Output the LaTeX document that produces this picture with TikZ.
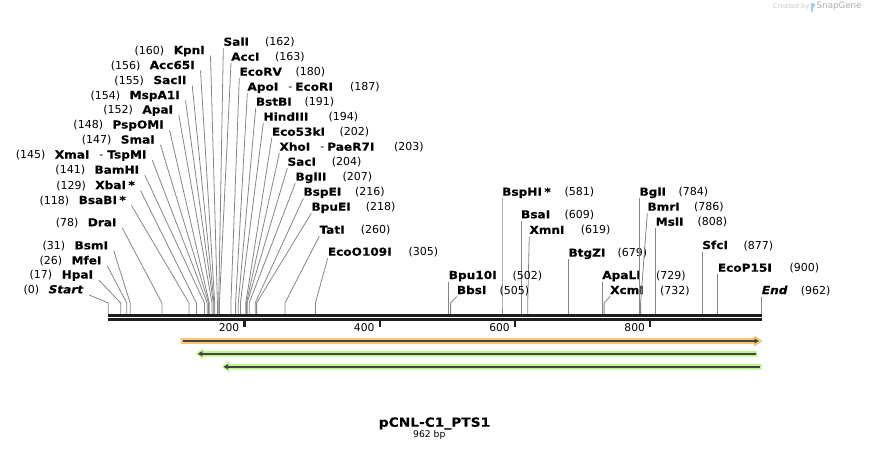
\documentclass[tikz,border=0pt]{standalone}
\usepackage{fontspec}
\setmainfont{DejaVu Sans}
\newfontfamily\stretchfam[FakeStretch=1.1,FakeBold=0.35]{DejaVu Sans}
\newcommand\myEnz{\stretchfam\bfseries\fontsize{11}{13}\selectfont}
\newcommand\myNum{\fontsize{11}{13}\selectfont}
\newcommand\myTick{\fontsize{10.7}{13}\selectfont}
\newcommand\myTitle{\stretchfam\bfseries\fontsize{12.5}{14}\selectfont}
\definecolor{orF}{HTML}{F9C774}
\definecolor{grF}{HTML}{BDF48C}
\definecolor{dk}{HTML}{454545}
\definecolor{siteg}{HTML}{868686}
\definecolor{axk}{HTML}{1E1E1E}
\definecolor{snapblue}{HTML}{9ED3F3}
% left-side label: id, site x, baseline, name right end, number, name
\newcommand\leftsite[6]{%
  \node[enz,anchor=base east] (n#1) at (#4,#3) {#6};
  \node[num,anchor=base east] (m#1) at ([xshift=-9pt]n#1.base west) {(#5)};
  \coordinate (k#1) at (#2,303);
  \coordinate (a#1) at (#2,314);
  \draw[siteline] ([xshift=5.5pt,yshift=-1.5pt]n#1.base east) -- (k#1) -- (a#1);
}
% right-side label: id, site x, baseline, name x, number x, number, name
\newcommand\rightsite[7]{%
  \node[enz,anchor=base west] (n#1) at (#4,#3) {#7};
  \node[num,anchor=base west] (m#1) at (#5,#3) {(#6)};
  \coordinate (k#1) at (#2,303);
  \coordinate (a#1) at (#2,314);
  \draw[siteline] ([yshift=-2.5pt]n#1.base west) -- (k#1) -- (a#1);
}
\begin{document}
\begin{tikzpicture}[x=1pt,y=-1pt,
  enz/.style={font=\myEnz,inner sep=0pt},
  num/.style={font=\myNum,inner sep=0pt},
  tickf/.style={font=\myTick,inner sep=0pt},
  siteline/.style={draw=siteg,line width=0.8pt},
  axisline/.style={draw=axk},
  tickline/.style={draw=axk,line width=2.2pt}]
\useasboundingbox (0,0) rectangle (870,453);

% watermark
\node[inner sep=0pt,anchor=base east,font=\fontsize{6.6}{8}\selectfont,text=black!22] (cb) at (809.5,8.4) {Created by};
\fill[snapblue] (811,12) -- (811,3) -- (813.2,3) .. controls (815.6,3) and (815.6,7.6) .. (813.2,7.6) -- (813.2,12) -- cycle;
\node[inner sep=0pt,anchor=base west,font=\fontsize{8.7}{10}\selectfont,text=black!32] (sg) at (816.5,8.4) {SnapGene};

% sites, left column
\leftsite{Kpn}{217.4}{54}{205}{160}{KpnI}
\leftsite{Acc}{214.7}{69}{195}{156}{Acc65I}
\leftsite{SacII}{214.0}{84}{186.7}{155}{SacII}
\leftsite{Msp}{213.3}{99}{180}{154}{MspA1I}
\leftsite{Apa}{212.0}{113.5}{173.3}{152}{ApaI}
\leftsite{Psp}{209.3}{128.5}{164}{148}{PspOMI}
\leftsite{Sma}{208.6}{143.5}{155}{147}{SmaI}
\leftsite{Xma}{207.2}{158.5}{146.7}{145}{XmaI\hspace{10pt}{\normalfont\myNum-}\hspace{4pt}TspMI}
\leftsite{Bam}{204.5}{173.7}{139.3}{141}{BamHI}
\leftsite{Xba}{196.4}{189}{135}{129}{XbaI\hspace{2.5pt}*}
\leftsite{BsaB}{189.0}{204}{126}{118}{BsaBI\hspace{2.5pt}*}
\leftsite{Dra}{161.9}{226.3}{116.7}{78}{DraI}
\leftsite{Bsm}{130.2}{249.3}{108.3}{31}{BsmI}
\leftsite{Mfe}{126.8}{264.3}{101.7}{26}{MfeI}
\leftsite{Hpa}{120.7}{278.5}{93.3}{17}{HpaI}
\leftsite{Start}{108.3}{293.3}{83.3}{0}{\itshape Start}

% sites, right column
\rightsite{Sal}{218.7}{45.7}{223.3}{265}{162}{SalI}
\rightsite{AccI}{219.4}{60.7}{231}{275}{163}{AccI}
\rightsite{EcoRV}{230.9}{75.7}{239.3}{295.3}{180}{EcoRV}
\rightsite{Apo}{235.6}{90.7}{247.3}{350}{187}{ApoI\hspace{10pt}{\normalfont\myNum-}\hspace{3pt}EcoRI}
\rightsite{BstB}{238.3}{105.7}{255.7}{304.3}{191}{BstBI}
\rightsite{Hind}{240.4}{120.7}{263.3}{328.3}{194}{HindIII}
\rightsite{Eco53}{245.8}{135.7}{271.7}{339.3}{202}{Eco53kI}
\rightsite{Xho}{246.4}{150.7}{279.3}{394}{203}{XhoI\hspace{10pt}{\normalfont\myNum-}\hspace{3pt}PaeR7I}
\rightsite{SacI}{247.1}{165.7}{287.3}{331.7}{204}{SacI}
\rightsite{BglII}{249.2}{180.7}{295.3}{342.3}{207}{BglII}
\rightsite{BspE}{255.2}{195.7}{303.3}{355}{216}{BspEI}
\rightsite{BpuE}{256.6}{210.7}{311.3}{365.7}{218}{BpuEI}
\rightsite{Tat}{285.0}{233.7}{319.3}{360.7}{260}{TatI}
\rightsite{EcoO}{315.4}{255.7}{327.7}{408.3}{305}{EcoO109I}

% sites, right group
\rightsite{BspH}{502.0}{195.7}{502.0}{564.3}{581}{BspHI\hspace{2.5pt}*}
\rightsite{Bsa}{520.9}{218.3}{520.9}{564.3}{609}{BsaI}
\rightsite{Xmn}{527.7}{233.8}{529.3}{580.7}{619}{XmnI}
\rightsite{BtgZ}{568.3}{256.7}{568.3}{617.3}{679}{BtgZI}
\rightsite{Bpu10}{448.6}{279}{448.6}{512.3}{502}{Bpu10I}
\rightsite{Bbs}{450.6}{294}{456.7}{499.3}{505}{BbsI}
\rightsite{ApaL}{602.1}{279}{602.1}{656}{729}{ApaLI}
\rightsite{Xcm}{604.1}{294}{610}{660}{732}{XcmI}
\rightsite{BglI}{639.3}{195.7}{639.3}{678.3}{784}{BglI}
\rightsite{Bmr}{640.6}{210.7}{647.3}{694}{786}{BmrI}
\rightsite{Msl}{655.5}{225.7}{655.5}{697.3}{808}{MslI}
\rightsite{Sfc}{702.1}{249}{702.1}{743.3}{877}{SfcI}
\rightsite{EcoP}{717.7}{271.7}{717.7}{789.3}{900}{EcoP15I}
\rightsite{End}{761.7}{294}{761.7}{800.7}{962}{\itshape End}

% sequence axis
\coordinate (ax0) at (108,315.3);
\coordinate (ax1) at (762,315.3);
\coordinate (bx0) at (108,319.5);
\coordinate (bx1) at (762,319.5);
\draw[axisline,line width=2.7pt] (ax0) -- (ax1);
\draw[axisline,line width=2.4pt] (bx0) -- (bx1);
\foreach \tx/\tl in {244.4/200,379.6/400,514.9/600,650.1/800}{
  \draw[tickline] (\tx,320.5) -- (\tx,327.3);
  \node[tickf,anchor=base east] (tk\tl) at (\tx-5,331) {\tl};
}

% features
\fill[orF] (180.7,338.2) -- (754,338.2) -- (754,335.2) -- (762.5,341) -- (754,346.8) -- (754,343.8) -- (180.7,343.8) -- cycle;
\draw[dk,line width=1.8pt] (182.7,341) -- (755.5,341);
\fill[dk] (754.5,338.4) -- (758.8,341) -- (754.5,343.6) -- cycle;

\fill[grF] (203.3,351) -- (757.3,351) -- (757.3,356.7) -- (203.3,356.7) -- (203.3,359.3) -- (196,353.8) -- (203.3,348.3) -- cycle;
\draw[dk,line width=1.8pt] (201,353.8) -- (756,353.8);
\fill[dk] (202.3,351.2) -- (197.8,353.8) -- (202.3,356.4) -- cycle;

\fill[grF] (229.3,364) -- (761.7,364) -- (761.7,369.7) -- (229.3,369.7) -- (229.3,372.3) -- (221.7,366.8) -- (229.3,361.3) -- cycle;
\draw[dk,line width=1.8pt] (227,366.8) -- (760,366.8);
\fill[dk] (228,364.2) -- (223.5,366.8) -- (228,369.4) -- cycle;

% title
\node[inner sep=0pt,anchor=base,font=\myTitle] (title) at (434.5,426.7) {pCNL-C1\_PTS1};
\node[inner sep=0pt,anchor=base,font=\fontsize{9.2}{11}\selectfont] (len) at (429.3,437.5) {962 bp};
\end{tikzpicture}
\end{document}
